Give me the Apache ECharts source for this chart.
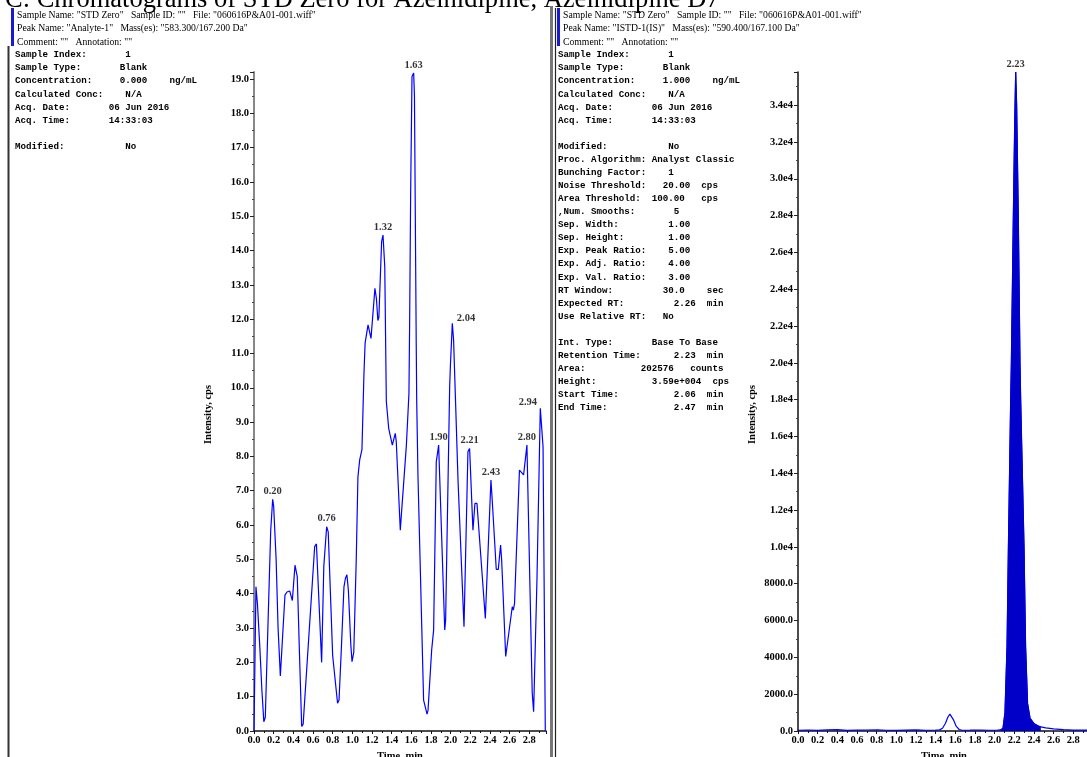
<!DOCTYPE html>
<html>
<head>
<meta charset="utf-8">
<script src="https://cdn.jsdelivr.net/npm/echarts@6/dist/echarts.min.js"></script>
<style>
  html, body { margin: 0; padding: 0; background: #fff; }
  #chart { width: 1087px; height: 757px; }
</style>
</head>
<body>
<div id="chart"></div>
<script>
// analyte trace (STD Zero, 583.3/167.2)
const leftTimes = [0.000, 0.020, 0.035, 0.060, 0.080, 0.100, 0.115, 0.170, 0.190, 0.200, 0.225, 0.245,
  0.268, 0.285, 0.315, 0.335, 0.363, 0.390, 0.417, 0.440, 0.460, 0.485, 0.500, 0.617, 0.635, 0.688,
  0.710, 0.739, 0.755, 0.800, 0.850, 0.865, 0.890, 0.915, 0.930, 0.945, 0.960, 0.985, 0.997, 1.015,
  1.040, 1.057, 1.075, 1.098, 1.118, 1.130, 1.160, 1.190, 1.230, 1.245, 1.260, 1.270, 1.298, 1.312,
  1.330, 1.346, 1.370, 1.407, 1.437, 1.447, 1.488, 1.500, 1.550, 1.576, 1.583, 1.593, 1.607, 1.624,
  1.632, 1.650, 1.655, 1.668, 1.725, 1.760, 1.770, 1.807, 1.827, 1.854, 1.878, 1.940, 1.949, 1.990,
  1.997, 2.017, 2.030, 2.050, 2.075, 2.136, 2.176, 2.193, 2.227, 2.247, 2.268, 2.353, 2.410, 2.420,
  2.464, 2.485, 2.508, 2.519, 2.560, 2.573, 2.627, 2.638, 2.650, 2.700, 2.720, 2.742, 2.776, 2.830,
  2.844, 2.878, 2.912, 2.925, 2.940, 2.963];
const leftValues = [0.0, 4.2, 3.7, 2.4, 1.2, 0.27, 0.4, 5.85, 6.75, 6.55, 5.0, 3.0,
  1.6, 1.65, 3.96, 4.05, 4.08, 3.8, 4.83, 4.5, 2.5, 0.13, 0.2, 5.37, 5.45, 2.0,
  4.8, 5.95, 5.8, 2.2, 0.81, 0.9, 2.5, 4.2, 4.45, 4.55, 4.1, 2.5, 2.02, 2.3,
  5.0, 7.4, 7.9, 8.2, 10.37, 11.3, 11.83, 11.44, 12.9, 12.6, 11.96, 12.05, 14.26, 14.45,
  13.53, 9.6, 8.82, 8.33, 8.67, 8.43, 5.85, 6.34, 8.33, 9.83, 11.88, 15.57, 19.07, 19.17,
  18.5, 11.3, 9.6, 7.41, 0.9, 0.49, 0.6, 2.36, 2.94, 7.84, 8.33, 2.94, 3.23, 10.0,
  10.6, 11.88, 11.4, 9.6, 7.31, 3.04, 8.14, 8.23, 5.85, 6.63, 6.63, 3.28, 7.31, 6.87,
  4.71, 4.71, 5.42, 4.98, 2.17, 2.17, 3.62, 3.52, 3.72, 7.6, 7.55, 7.46, 8.33, 1.1,
  0.56, 4.4, 9.4, 9.45, 8.28, 0.0];
const leftPeakRT = ['0.20', '0.76', '1.32', '1.63', '1.90', '2.04', '2.21', '2.43', '2.80', '2.94'];

// internal standard trace (ISTD-1, 590.4/167.1)
const rightTimes = [0.00, 0.10, 0.20, 0.30, 0.40, 0.50, 0.60, 0.70, 0.80, 0.90, 1.00, 1.10, 1.20, 1.30,
  1.40, 1.44, 1.47, 1.50, 1.525, 1.545, 1.56, 1.58, 1.61, 1.64, 1.67, 1.75, 1.85, 1.95, 2.03,
  2.06, 2.085, 2.105, 2.126, 2.14, 2.163, 2.17, 2.19, 2.204, 2.214, 2.224, 2.241, 2.258, 2.265,
  2.299, 2.315, 2.335, 2.36, 2.40, 2.44, 2.47, 2.52, 2.60, 2.70, 2.80, 2.90, 2.97];
const rightValues = [40, 55, 35, 60, 70, 30, 45, 55, 65, 40, 35, 50, 60, 40,
  45, 60, 150, 420, 760, 920, 880, 620, 250, 80, 40, 45, 55, 40, 50,
  60, 150, 1000, 4600, 10000, 18000, 20000, 27900, 33000, 35800, 34000, 27900, 20000, 18000,
  10000, 4600, 1500, 700, 400, 280, 220, 170, 120, 70, 50, 45, 40];
const rightPeakRT = ['2.23'];
const rtStart = 2.06;
const rtEnd = 2.47;

const leftYTicks = { min: 0, max: 19.2, interval: 1 };
const rightYTicks = { min: 0, max: 35800, interval: 2000 };
const xTicks = { min: 0, max: 2.97, interval: 0.2 };

const title = 'C: Chromatograms of STD Zero for Azelnidipine, Azelnidipine D7';
const leftHeader = [
  'Sample Name: "STD Zero"   Sample ID: ""   File: "060616P&A01-001.wiff"',
  'Peak Name: "Analyte-1"   Mass(es): "583.300/167.200 Da"',
  'Comment: ""   Annotation: ""'
];
const rightHeader = [
  'Sample Name: "STD Zero"   Sample ID: ""   File: "060616P&A01-001.wiff"',
  'Peak Name: "ISTD-1(IS)"   Mass(es): "590.400/167.100 Da"',
  'Comment: ""   Annotation: ""'
];
const leftInfo = [
  'Sample Index:       1',
  'Sample Type:       Blank',
  'Concentration:     0.000    ng/mL',
  'Calculated Conc:    N/A',
  'Acq. Date:       06 Jun 2016',
  'Acq. Time:       14:33:03',
  '',
  'Modified:           No'
];
const rightInfo = [
  'Sample Index:       1',
  'Sample Type:       Blank',
  'Concentration:     1.000    ng/mL',
  'Calculated Conc:    N/A',
  'Acq. Date:       06 Jun 2016',
  'Acq. Time:       14:33:03',
  '',
  'Modified:           No',
  'Proc. Algorithm: Analyst Classic',
  'Bunching Factor:    1',
  'Noise Threshold:   20.00  cps',
  'Area Threshold:  100.00   cps',
  ',Num. Smooths:       5',
  'Sep. Width:         1.00',
  'Sep. Height:        1.00',
  'Exp. Peak Ratio:    5.00',
  'Exp. Adj. Ratio:    4.00',
  'Exp. Val. Ratio:    3.00',
  'RT Window:         30.0    sec',
  'Expected RT:         2.26  min',
  'Use Relative RT:   No',
  '',
  'Int. Type:       Base To Base',
  'Retention Time:      2.23  min',
  'Area:          202576   counts',
  'Height:          3.59e+004  cps',
  'Start Time:          2.06  min',
  'End Time:            2.47  min'
];

const serif = '"Liberation Serif", "Times New Roman", serif';
const mono = '"Liberation Mono", "Courier New", monospace';
const blue = '#0000ff';
const boldSerif = { fontFamily: serif, fontSize: 10.5, fontWeight: 'bold', color: '#000' };

function pairs(ts, vs) {
  return ts.map((t, i) => [t, vs[i]]);
}

// find the apex near each reported retention time
function peakPoints(ts, vs, rts) {
  return rts.map(rt => {
    const c = parseFloat(rt) - 0.015;
    let best = -1;
    ts.forEach((t, i) => {
      if (Math.abs(t - c) <= 0.03 && (best < 0 || vs[i] > vs[best])) best = i;
    });
    return { name: rt, value: [ts[best], vs[best]] };
  });
}

const labelPos = {
  '2.04': { position: 'right', offset: [2, -5] },
  '2.94': { position: 'left', offset: [-2, -4] }
};

function peakSeries(idx, pts) {
  return {
    type: 'scatter',
    xAxisIndex: idx,
    yAxisIndex: idx,
    symbolSize: 1,
    itemStyle: { color: 'rgba(0,0,0,0)' },
    silent: true,
    z: 5,
    label: Object.assign({
      show: true,
      position: 'top',
      distance: 2,
      formatter: p => p.name
    }, boldSerif),
    data: pts.map(p => Object.assign({}, p, labelPos[p.name] ? { label: labelPos[p.name] } : {}))
  };
}

function xAxis(idx) {
  return {
    type: 'value',
    gridIndex: idx,
    min: xTicks.min,
    max: xTicks.max,
    interval: xTicks.interval,
    name: 'Time, min',
    nameLocation: 'middle',
    nameGap: 16,
    nameTextStyle: boldSerif,
    axisLine: { show: true, lineStyle: { color: '#111', width: 1.5 } },
    axisTick: { show: true, length: 3, lineStyle: { color: '#111' } },
    minorTick: { show: true, splitNumber: 2, length: 2, lineStyle: { color: '#111' } },
    axisLabel: Object.assign({
      margin: 4,
      showMaxLabel: false,
      formatter: v => v.toFixed(1)
    }, boldSerif),
    splitLine: { show: false }
  };
}

function yAxis(idx, ticks, fmt, lineColor, lineWidth) {
  return {
    type: 'value',
    gridIndex: idx,
    min: ticks.min,
    max: ticks.max,
    interval: ticks.interval,
    name: 'Intensity, cps',
    nameLocation: 'middle',
    nameRotate: 90,
    nameGap: 40,
    nameTextStyle: Object.assign({ padding: [0, 26, 0, 0] }, boldSerif),
    axisLine: { show: true, lineStyle: { color: lineColor, width: lineWidth } },
    axisTick: { show: true, length: 4, lineStyle: { color: '#222' } },
    minorTick: { show: true, splitNumber: 2, length: 2, lineStyle: { color: '#444' } },
    axisLabel: Object.assign({
      margin: 5,
      showMaxLabel: false,
      formatter: fmt
    }, boldSerif),
    splitLine: { show: false }
  };
}

function textEl(x, y, text, font, align) {
  return {
    type: 'text',
    z: 10,
    style: {
      x: x, y: y, text: text, font: font, fill: '#000',
      align: align || 'left', textAlign: align || 'left',
      verticalAlign: 'middle', textVerticalAlign: 'middle'
    }
  };
}

const graphics = [];
graphics.push(textEl(5, 0, title, '26.5px ' + serif));
[[17, leftHeader], [563, rightHeader]].forEach(([x, lines]) => {
  lines.forEach((s, i) => graphics.push(textEl(x, 15 + i * 13.5, s, '9.7px ' + serif)));
});
[[15, leftInfo], [558, rightInfo]].forEach(([x, lines]) => {
  lines.forEach((s, i) => {
    if (s) graphics.push(textEl(x, 55 + i * 13.07, s, 'bold 9.2px ' + mono));
  });
});
// frames and header markers
graphics.push(
  { type: 'rect', shape: { x: 11, y: 8, width: 3, height: 38 }, style: { fill: '#1a1ad0' } },
  { type: 'rect', shape: { x: 557, y: 8, width: 3, height: 38 }, style: { fill: '#1a1ad0' } },
  { type: 'line', shape: { x1: 8.5, y1: 46, x2: 8.5, y2: 757 }, style: { stroke: '#333', lineWidth: 2 } },
  { type: 'rect', shape: { x: 550, y: 6, width: 3, height: 751 }, style: { fill: '#777' } },
  { type: 'line', shape: { x1: 555.5, y1: 8, x2: 555.5, y2: 757 }, style: { stroke: '#222', lineWidth: 1.2 } }
);

const rightFill = pairs(rightTimes, rightValues).filter(p => p[0] >= rtStart && p[0] <= rtEnd);

const chart = echarts.init(document.getElementById('chart'));
chart.setOption({
  animation: false,
  backgroundColor: '#fff',
  grid: [
    { left: 254, top: 72, width: 292, height: 659, outerBoundsMode: 'none', containLabel: false },
    { left: 798, top: 72, width: 292, height: 659, outerBoundsMode: 'none', containLabel: false }
  ],
  xAxis: [xAxis(0), xAxis(1)],
  yAxis: [
    yAxis(0, leftYTicks, v => v.toFixed(1), '#888', 2),
    yAxis(1, rightYTicks, v => (v >= 10000 ? (v / 10000).toFixed(1) + 'e4' : v.toFixed(1)), '#111', 1.5)
  ],
  series: [
    {
      type: 'line',
      xAxisIndex: 0,
      yAxisIndex: 0,
      symbol: 'none',
      lineStyle: { color: blue, width: 1.2 },
      data: pairs(leftTimes, leftValues)
    },
    peakSeries(0, peakPoints(leftTimes, leftValues, leftPeakRT)),
    {
      type: 'line',
      xAxisIndex: 1,
      yAxisIndex: 1,
      symbol: 'none',
      lineStyle: { color: blue, width: 1.2 },
      data: pairs(rightTimes, rightValues)
    },
    {
      type: 'line',
      xAxisIndex: 1,
      yAxisIndex: 1,
      symbol: 'none',
      lineStyle: { color: '#0000c8', width: 1 },
      areaStyle: { color: '#0000c8', opacity: 1 },
      data: rightFill
    },
    peakSeries(1, peakPoints(rightTimes, rightValues, rightPeakRT))
  ],
  graphic: graphics
});
</script>
</body>
</html>
